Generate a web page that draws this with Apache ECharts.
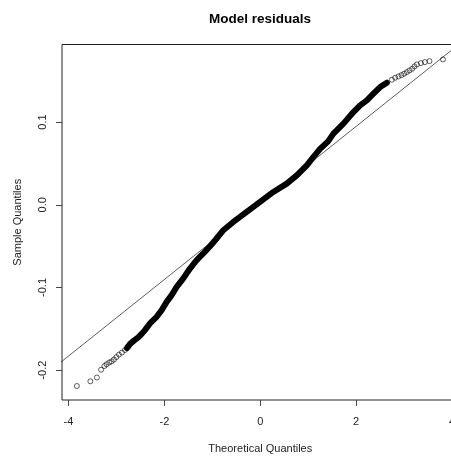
<!DOCTYPE html>
<html>
<head>
<meta charset="utf-8">
<script src="https://cdn.jsdelivr.net/npm/echarts@6/dist/echarts.min.js"></script>
<style>
  html, body { margin: 0; padding: 0; background: #fff; }
  #main { width: 451px; height: 458px; }
</style>
</head>
<body>
<div id="main"></div>
<script>
// lower tail points (drawn as separate circles)
var lowTailX = [-3.825, -3.543, -3.407, -3.319, -3.251, -3.205, -3.150, -3.100, -3.052, -3.000, -2.948, -2.885, -2.823];
var lowTailY = [-0.2192, -0.2135, -0.2089, -0.1995, -0.1950, -0.1929, -0.1908, -0.1894, -0.1872, -0.1842, -0.1812, -0.1787, -0.1757];

// dense middle of the sample (points overlap into a thick band)
var bodyX = [-2.781, -2.718, -2.635, -2.545, -2.468, -2.405, -2.301, -2.161, -2.056, -1.952, -1.848, -1.743, -1.605, -1.466, -1.326, -1.188, -1.048, -0.923, -0.770, -0.562, -0.282, -0.004, 0.273, 0.553, 0.762, 0.971, 1.102, 1.248, 1.415, 1.526, 1.735, 1.944, 2.083, 2.223, 2.361, 2.501, 2.641];
var bodyY = [-0.1733, -0.1685, -0.1643, -0.1604, -0.1558, -0.1516, -0.1435, -0.1355, -0.1274, -0.1174, -0.1093, -0.0993, -0.0891, -0.0771, -0.0670, -0.0589, -0.0501, -0.0417, -0.0308, -0.0208, -0.0087, 0.0034, 0.0155, 0.0256, 0.0356, 0.0477, 0.0574, 0.0676, 0.0767, 0.0860, 0.0981, 0.1121, 0.1202, 0.1262, 0.1343, 0.1423, 0.1476];

// upper tail points
var highTailX = [2.745, 2.814, 2.883, 2.946, 3.002, 3.058, 3.113, 3.169, 3.217, 3.267, 3.351, 3.434, 3.530, 3.810];
var highTailY = [0.1512, 0.1536, 0.1552, 0.1568, 0.1585, 0.1604, 0.1624, 0.1645, 0.1673, 0.1697, 0.1713, 0.1725, 0.1737, 0.1757];

// qq reference line end points
var refX = [-4.3, 4.3];
var refY = [-0.1969, 0.2013];

var xTicks = [-4, -2, 0, 2, 4];
var yTicks = [-0.2, -0.1, 0.0, 0.1];

function pairs(xs, ys) {
  var out = [];
  for (var i = 0; i < xs.length; i++) out.push([xs[i], ys[i]]);
  return out;
}

var font = 'Liberation Sans, Arial, sans-serif';
var chart = echarts.init(document.getElementById('main'), null, { renderer: 'canvas' });

var option = {
  animation: false,
  backgroundColor: '#fff',
  title: {
    text: 'Model residuals',
    left: 260,
    top: 12,
    padding: 0,
    textAlign: 'center',
    textStyle: { fontFamily: font, fontSize: 13.5, fontWeight: 'bold', color: '#000' }
  },
  grid: {
    left: 62, top: 44.5, width: 396.5, bottom: 58,
    outerBoundsMode: 'none',
    containLabel: false,
    show: true, borderColor: '#222', borderWidth: 1
  },
  xAxis: {
    type: 'value',
    min: -4.135, max: 4.135,
    name: 'Theoretical Quantiles',
    nameLocation: 'middle',
    nameGap: 43,
    nameTextStyle: { fontFamily: font, fontSize: 11, color: '#222' },
    axisLine: { show: false, onZero: false },
    splitLine: { show: false },
    axisTick: { show: true, length: 6, customValues: xTicks, lineStyle: { color: '#444' } },
    axisLabel: {
      customValues: xTicks, margin: 16, hideOverlap: false,
      fontFamily: font, fontSize: 11, color: '#222',
      formatter: function (v) { return String(v); }
    }
  },
  yAxis: {
    type: 'value',
    min: -0.2361, max: 0.1938,
    name: 'Sample Quantiles',
    nameLocation: 'middle',
    nameRotate: 90,
    nameGap: 39,
    nameTextStyle: { fontFamily: font, fontSize: 11, color: '#222' },
    axisLine: { show: false, onZero: false },
    splitLine: { show: false },
    axisTick: { show: true, length: 6, customValues: yTicks, lineStyle: { color: '#444' } },
    axisLabel: {
      customValues: yTicks, margin: 14, rotate: 90,
      fontFamily: font, fontSize: 11, color: '#222',
      formatter: function (v) { return v.toFixed(1); }
    }
  },
  series: [
    {
      type: 'line',
      data: pairs(refX, refY),
      showSymbol: false,
      clip: true,
      lineStyle: { color: '#333', width: 0.8 },
      z: 1
    },
    {
      type: 'line',
      data: pairs(bodyX, bodyY),
      showSymbol: false,
      lineStyle: { color: '#000', width: 6, cap: 'round', join: 'round' },
      z: 2
    },
    {
      type: 'scatter',
      data: pairs(lowTailX, lowTailY).concat(pairs(highTailX, highTailY)),
      symbol: 'circle',
      symbolSize: 5,
      itemStyle: { color: 'rgba(0,0,0,0)', borderColor: '#000', borderWidth: 0.8 },
      z: 3
    }
  ]
};

chart.setOption(option);
</script>
</body>
</html>
